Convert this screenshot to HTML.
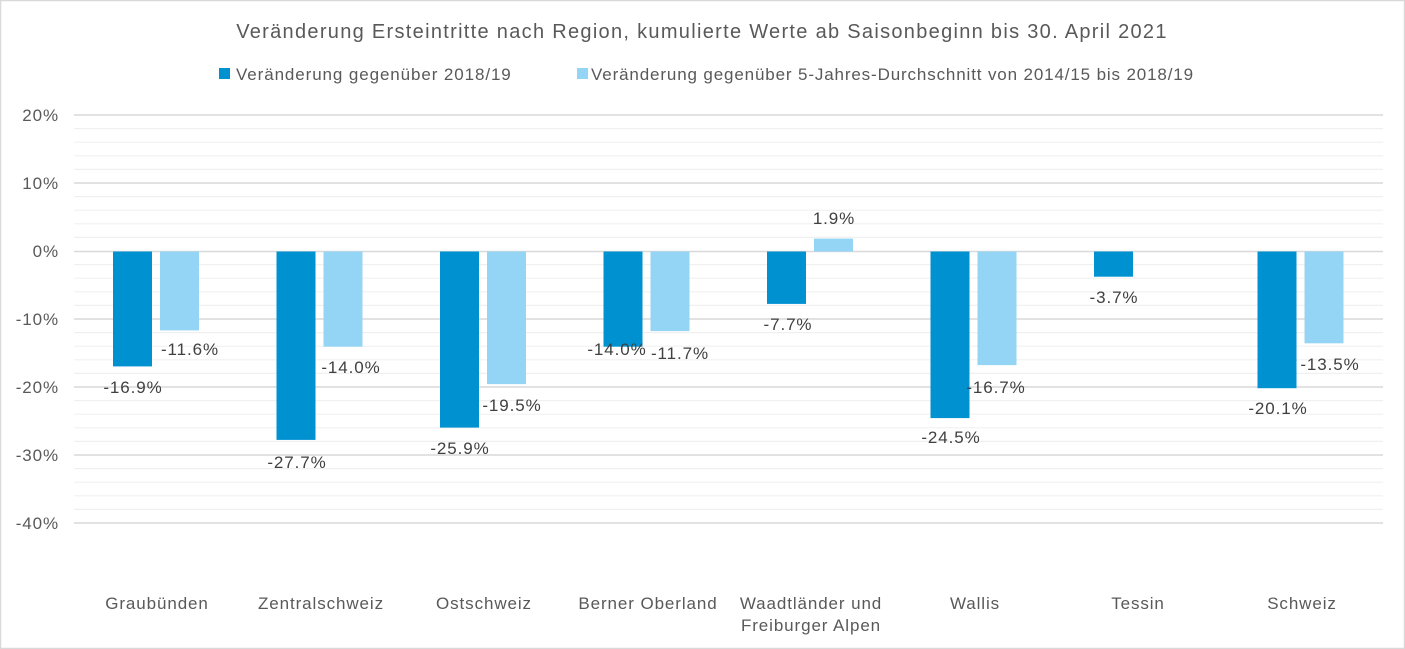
<!DOCTYPE html>
<html><head><meta charset="utf-8"><style>
body{margin:0;background:#fff}
svg{display:block;font-family:"Liberation Sans",sans-serif}
</style></head><body>
<svg width="1405" height="649" viewBox="0 0 1405 649" xmlns="http://www.w3.org/2000/svg">
<rect x="0.5" y="0.5" width="1404" height="648" fill="#fff" stroke="#d9d9d9" stroke-width="1.5"/>
<text x="702" y="38" text-anchor="middle" font-size="20" letter-spacing="1.3" fill="#595959">Veränderung Ersteintritte nach Region, kumulierte Werte ab Saisonbeginn bis 30. April 2021</text>
<rect x="219" y="68" width="11" height="11" fill="#0091d1"/>
<text x="236" y="80" font-size="17" letter-spacing="0.9" fill="#595959">Veränderung gegenüber 2018/19</text>
<rect x="577" y="68" width="11" height="11" fill="#94d5f6"/>
<text x="591" y="80" font-size="17" letter-spacing="0.86" fill="#595959">Veränderung gegenüber 5-Jahres-Durchschnitt von 2014/15 bis 2018/19</text>
<g stroke="#f0f0f0" stroke-width="1.2">
<line x1="74" x2="1383" y1="128.6" y2="128.6"/><line x1="74" x2="1383" y1="142.2" y2="142.2"/><line x1="74" x2="1383" y1="155.8" y2="155.8"/><line x1="74" x2="1383" y1="169.4" y2="169.4"/>
<line x1="74" x2="1383" y1="196.6" y2="196.6"/><line x1="74" x2="1383" y1="210.2" y2="210.2"/><line x1="74" x2="1383" y1="223.8" y2="223.8"/><line x1="74" x2="1383" y1="237.4" y2="237.4"/>
<line x1="74" x2="1383" y1="264.6" y2="264.6"/><line x1="74" x2="1383" y1="278.2" y2="278.2"/><line x1="74" x2="1383" y1="291.8" y2="291.8"/><line x1="74" x2="1383" y1="305.4" y2="305.4"/>
<line x1="74" x2="1383" y1="332.6" y2="332.6"/><line x1="74" x2="1383" y1="346.2" y2="346.2"/><line x1="74" x2="1383" y1="359.8" y2="359.8"/><line x1="74" x2="1383" y1="373.4" y2="373.4"/>
<line x1="74" x2="1383" y1="400.6" y2="400.6"/><line x1="74" x2="1383" y1="414.2" y2="414.2"/><line x1="74" x2="1383" y1="427.8" y2="427.8"/><line x1="74" x2="1383" y1="441.4" y2="441.4"/>
<line x1="74" x2="1383" y1="468.6" y2="468.6"/><line x1="74" x2="1383" y1="482.2" y2="482.2"/><line x1="74" x2="1383" y1="495.8" y2="495.8"/><line x1="74" x2="1383" y1="509.4" y2="509.4"/>
</g>
<g stroke="#d9d9d9" stroke-width="1.5">
<line x1="74" x2="1383" y1="115" y2="115"/><line x1="74" x2="1383" y1="183" y2="183"/><line x1="74" x2="1383" y1="251.5" y2="251.5"/>
<line x1="74" x2="1383" y1="319" y2="319"/><line x1="74" x2="1383" y1="387" y2="387"/><line x1="74" x2="1383" y1="455" y2="455"/><line x1="74" x2="1383" y1="523" y2="523"/>
</g>
<g font-size="17" letter-spacing="0.9" fill="#595959" text-anchor="end">
<text x="59" y="121">20%</text><text x="59" y="189">10%</text><text x="59" y="257">0%</text><text x="59" y="325">-10%</text>
<text x="59" y="393">-20%</text><text x="59" y="461">-30%</text><text x="59" y="529">-40%</text>
</g>
<g fill="#0091d1">
<rect x="113" y="251.5" width="39" height="114.9"/>
<rect x="276.5" y="251.5" width="39" height="188.4"/>
<rect x="440" y="251.5" width="39" height="176.1"/>
<rect x="603.5" y="251.5" width="39" height="95.2"/>
<rect x="767" y="251.5" width="39" height="52.4"/>
<rect x="930.5" y="251.5" width="39" height="166.6"/>
<rect x="1094" y="251.5" width="39" height="25.2"/>
<rect x="1257.5" y="251.5" width="39" height="136.7"/>
</g>
<g fill="#94d5f6">
<rect x="160" y="251.5" width="39" height="78.9"/>
<rect x="323.5" y="251.5" width="39" height="95.2"/>
<rect x="487" y="251.5" width="39" height="132.6"/>
<rect x="650.5" y="251.5" width="39" height="79.6"/>
<rect x="814" y="238.6" width="39" height="12.9"/>
<rect x="977.5" y="251.5" width="39" height="113.6"/>
<rect x="1304.5" y="251.5" width="39" height="91.8"/>
</g>
<g font-size="17" letter-spacing="0.9" fill="#404040" text-anchor="middle">
<text x="133" y="393">-16.9%</text><text x="190" y="355">-11.6%</text>
<text x="297" y="468">-27.7%</text><text x="351" y="373">-14.0%</text>
<text x="460" y="454">-25.9%</text><text x="512" y="411">-19.5%</text>
<text x="617" y="355">-14.0%</text><text x="680" y="359">-11.7%</text>
<text x="788" y="330">-7.7%</text><text x="834" y="224">1.9%</text>
<text x="951" y="443">-24.5%</text><text x="996" y="393">-16.7%</text>
<text x="1114" y="303">-3.7%</text>
<text x="1278" y="414">-20.1%</text><text x="1330" y="370">-13.5%</text>
</g>
<g font-size="17" letter-spacing="0.9" fill="#595959" text-anchor="middle">
<text x="157" y="609">Graubünden</text>
<text x="321" y="609">Zentralschweiz</text>
<text x="484" y="609">Ostschweiz</text>
<text x="648" y="609">Berner Oberland</text>
<text x="811" y="609">Waadtländer und</text>
<text x="811" y="631">Freiburger Alpen</text>
<text x="975" y="609">Wallis</text>
<text x="1138" y="609">Tessin</text>
<text x="1302" y="609">Schweiz</text>
</g>
</svg>
</body></html>
